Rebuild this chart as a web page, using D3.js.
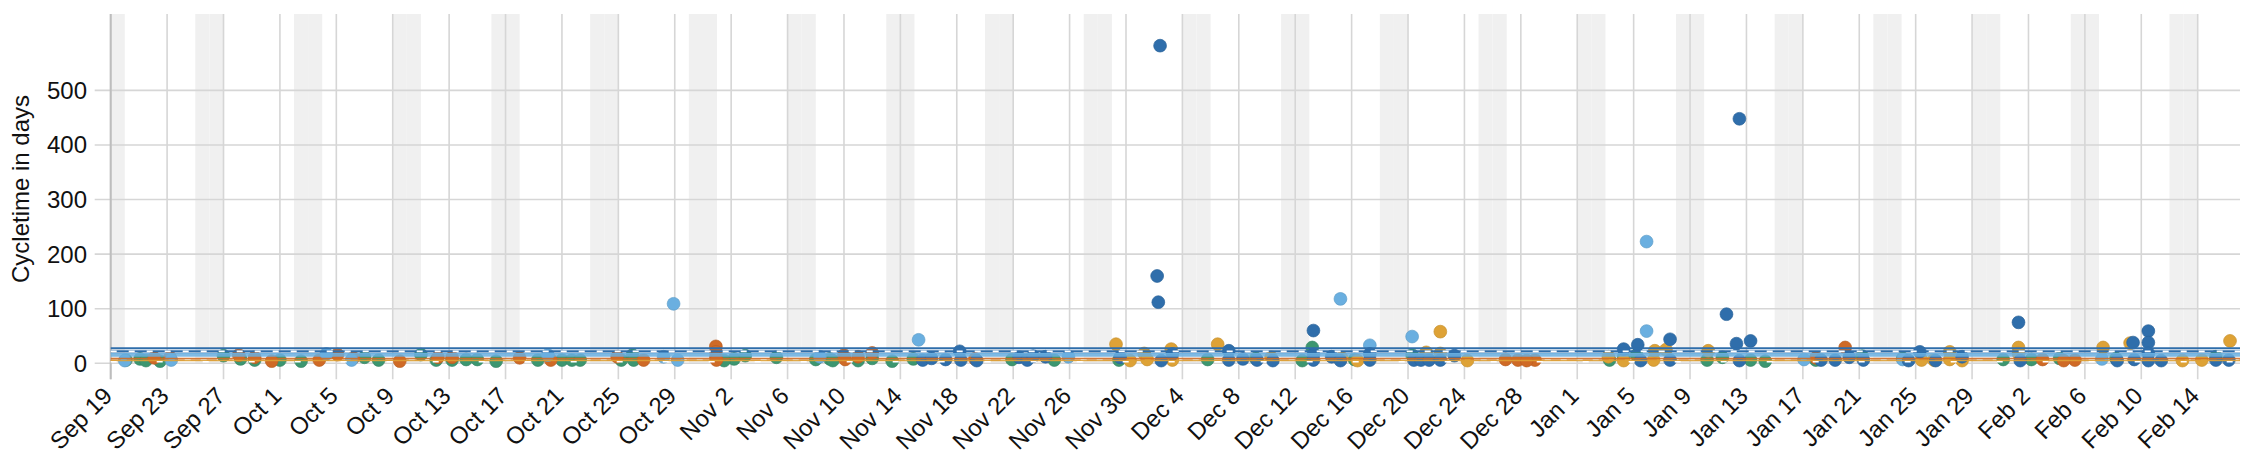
<!DOCTYPE html>
<html><head><meta charset="utf-8">
<script src="https://cdn.jsdelivr.net/npm/d3@7"></script>
<style>
html,body{margin:0;padding:0;background:#fff;}
svg{display:block;font-family:"Liberation Sans",Arial,Helvetica,sans-serif;}
</style></head>
<body><svg id="chart" width="2246" height="474"></svg>
<script>
// ---- data (dates as "YYYY-MM-DD HH", values = cycletime in days) ----
const domainStart = "2021-09-19 00";
const domainEnd = "2022-02-17 00";
const yTicks = [0, 100, 200, 300, 400, 500];
const yMax = 640;
const seriesNames = ["green", "orange", "lightblue", "yellow", "darkblue"];
const seriesColors = ["#3c9670", "#cf6a26", "#6aafe0", "#dea236", "#2f6eab"];

const green = [
 ["2021-09-20 02",6],["2021-09-21 02",8],["2021-09-21 12",5],["2021-09-27 00",14],["2021-09-28 05",8],
 ["2021-09-29 05",6],["2021-10-01 00",6],["2021-10-07 00",11],["2021-10-08 00",6],["2021-10-11 00",16],
 ["2021-10-12 02",6],["2021-10-13 05",6],["2021-10-14 05",7],["2021-10-15 00",7],["2021-10-19 07",6],
 ["2021-10-21 00",6],["2021-10-21 17",6],["2021-10-22 07",6],["2021-10-25 05",6],["2021-10-26 00",15],
 ["2021-10-26 02",6],["2021-11-02 05",8],["2021-11-03 00",14],["2021-11-05 05",11],["2021-11-08 00",7],
 ["2021-11-09 00",8],["2021-11-09 05",5],["2021-11-11 00",5],["2021-11-12 00",9],["2021-11-14 22",8],
 ["2021-11-21 22",7],["2021-11-24 22",6],["2021-11-29 12",6],["2021-12-05 19",7],["2021-12-09 05",9],
 ["2021-12-13 05",29],["2021-12-16 05",7],["2021-12-20 07",15],["2022-01-03 07",6],["2022-01-04 07",12],
 ["2022-01-05 05",15],["2022-01-10 05",6],["2022-01-11 07",11],["2022-01-13 07",6],["2022-01-17 22",6],
 ["2022-01-18 05",7],["2022-01-21 05",13],["2022-01-24 02",9],["2022-01-31 05",7],["2022-02-02 05",7],
 ["2022-02-04 05",9],["2022-02-08 05",9],["2022-02-15 07",12],
 ["2021-09-22 12",4],["2021-10-02 12",4],["2021-10-16 08",4],["2021-11-01 12",5],["2021-11-13 10",4],
 ["2021-12-12 12",5],["2022-01-14 08",4]
];
const orange = [
 ["2021-09-22 02",10],["2021-09-23 05",11],["2021-09-28 02",15],["2021-09-29 05",11],["2021-10-03 19",6],
 ["2021-10-05 02",16],["2021-10-06 05",10],["2021-10-12 05",11],["2021-10-13 05",11],["2021-10-18 00",10],
 ["2021-10-20 05",6],["2021-10-24 22",12],["2021-10-26 19",6],["2021-10-31 22",31],["2021-10-31 22",21],
 ["2021-10-31 22",11],["2021-10-31 23",6],["2021-11-10 00",15],["2021-11-10 02",7],["2021-11-11 00",12],
 ["2021-11-12 00",19],["2021-11-19 07",8],["2021-12-26 22",7],["2021-12-27 19",6],["2021-12-29 00",6],
 ["2022-01-17 22",10],["2022-01-20 00",29],["2022-02-03 00",7],["2022-02-05 07",6],
 ["2021-09-30 10",4],["2021-10-09 12",4],["2021-12-28 10",5],["2022-02-04 12",5]
];
const lightblue = [
 ["2021-09-20 00",5],["2021-09-23 07",6],["2021-10-04 07",17],["2021-10-06 02",6],["2021-10-20 00",15],
 ["2021-10-28 05",12],["2021-10-28 22",109],["2021-10-29 05",6],["2021-11-08 07",12],["2021-11-15 07",43],
 ["2021-11-25 22",12],["2021-12-15 05",118],["2021-12-17 07",33],["2021-12-20 07",49],["2022-01-05 22",223],
 ["2022-01-05 22",59],["2022-01-17 02",7],["2022-01-24 02",7],["2022-02-07 05",8]
];
const yellow = [
 ["2021-11-29 07",35],["2021-11-30 07",5],["2021-12-01 07",18],["2021-12-01 12",7],["2021-12-03 05",26],
 ["2021-12-03 07",6],["2021-12-06 12",35],["2021-12-10 07",11],["2021-12-15 07",10],["2021-12-16 10",5],
 ["2021-12-21 07",20],["2021-12-22 07",58],["2021-12-22 07",18],["2021-12-24 05",5],["2022-01-03 05",12],
 ["2022-01-04 07",5],["2022-01-06 10",6],["2022-01-06 12",23],["2022-01-07 07",25],["2022-01-10 07",23],
 ["2022-01-25 10",6],["2022-01-26 07",6],["2022-01-27 10",21],["2022-01-27 10",7],["2022-01-28 07",5],
 ["2022-02-01 07",29],["2022-02-01 07",18],["2022-02-07 07",29],["2022-02-09 05",37],["2022-02-12 22",5],
 ["2022-02-14 07",6],["2022-02-16 07",41]
];
const darkblue = [
 ["2021-11-15 14",6],["2021-11-16 05",9],["2021-11-17 05",7],["2021-11-18 05",22],["2021-11-18 07",6],
 ["2021-11-19 10",5],["2021-11-22 10",11],["2021-11-23 00",6],["2021-11-23 10",13],["2021-11-24 07",12],
 ["2021-11-29 14",11],["2021-12-02 05",160],["2021-12-02 07",112],["2021-12-02 10",582],["2021-12-02 12",5],
 ["2021-12-03 07",17],["2021-12-07 07",23],["2021-12-07 07",6],["2021-12-08 07",8],["2021-12-09 07",6],
 ["2021-12-10 10",5],["2021-12-13 07",60],["2021-12-13 07",16],["2021-12-13 07",6],["2021-12-14 14",12],
 ["2021-12-15 05",5],["2021-12-17 07",17],["2021-12-17 07",6],["2021-12-20 10",6],["2021-12-20 22",6],
 ["2021-12-21 12",6],["2021-12-22 07",6],["2021-12-23 07",14],["2022-01-04 07",26],["2022-01-05 07",34],
 ["2022-01-05 12",5],["2022-01-07 14",44],["2022-01-07 14",6],["2022-01-11 14",90],["2022-01-12 07",36],
 ["2022-01-12 12",448],["2022-01-12 12",5],["2022-01-13 07",41],["2022-01-18 07",6],["2022-01-19 07",6],
 ["2022-01-20 07",11],["2022-01-21 07",6],["2022-01-24 12",5],["2022-01-25 07",21],["2022-01-26 10",5],
 ["2022-01-28 07",12],["2022-02-01 07",75],["2022-02-01 10",5],["2022-02-08 07",5],["2022-02-09 10",38],
 ["2022-02-09 12",7],["2022-02-10 12",59],["2022-02-10 12",38],["2022-02-10 12",18],["2022-02-10 12",5],
 ["2022-02-11 10",5],["2022-02-15 07",6],["2022-02-16 05",6]
];
const seriesData = [green, orange, lightblue, yellow, darkblue];

// reference lines: value and the series whose colour they use
const refValues = [27.5, 22, 15, 9, 5];
const refSeries = [4, 4, 2, 1, 3];

// ---- chart ----
const parse = d3.utcParse("%Y-%m-%d %H");
const svg = d3.select("#chart");
const L = 110.7, R = 2240, T = 14, B = 363.3, ext = 16;
const x = d3.scaleUtc().domain([parse(domainStart), parse(domainEnd)]).range([L, R]);
const y = d3.scaleLinear().domain([0, yMax]).range([B, T]);

// weekend bands
const days = d3.utcDay.range(parse(domainStart), parse(domainEnd));
svg.append("g").selectAll("rect")
  .data(days.filter(d => d.getUTCDay() === 0 || d.getUTCDay() === 6))
  .join("rect")
  .attr("x", d => x(d)).attr("width", d => x(d3.utcDay.offset(d, 1)) - x(d))
  .attr("y", T).attr("height", B - T).attr("fill", "#f0f0f0");

// x grid + ticks
const xTickVals = d3.utcDay.range(parse(domainStart), d3.utcDay.offset(parse(domainEnd), 1), 4);
const gx = svg.append("g");
gx.selectAll("line").data(xTickVals).join("line")
  .attr("x1", d => x(d)).attr("x2", d => x(d))
  .attr("y1", T).attr("y2", B + ext)
  .attr("stroke", "#d6d6d6").attr("stroke-width", 1.6);
const fmt = d3.utcFormat("%b %-d");
gx.selectAll("text").data(xTickVals).join("text")
  .attr("transform", d => `translate(${x(d) + 3},${B + 34}) rotate(-45)`)
  .attr("text-anchor", "end").attr("font-size", 24).attr("fill", "#111")
  .text(d => fmt(d));

// y grid + ticks
const gy = svg.append("g");
gy.selectAll("line").data(yTicks).join("line")
  .attr("x1", L - ext).attr("x2", R)
  .attr("y1", d => y(d)).attr("y2", d => y(d))
  .attr("stroke", "#d6d6d6").attr("stroke-width", 1.6);
gy.selectAll("text").data(yTicks).join("text")
  .attr("x", 87).attr("y", d => y(d)).attr("dy", "0.35em")
  .attr("text-anchor", "end").attr("font-size", 24).attr("fill", "#111")
  .text(d => d);
svg.append("line").attr("x1", L).attr("x2", L).attr("y1", T).attr("y2", B + ext)
  .attr("stroke", "#bdbdbd").attr("stroke-width", 2);

// y title
svg.append("text").attr("transform", "translate(29,189) rotate(-90)")
  .attr("text-anchor", "middle").attr("font-size", 24).attr("fill", "#111")
  .text("Cycletime in days");

// points
const gp = svg.append("g");
seriesData.forEach((s, i) => {
  const c = seriesColors[i];
  gp.append("g").selectAll("circle").data(s).join("circle")
    .attr("cx", d => x(parse(d[0]))).attr("cy", d => y(d[1])).attr("r", 6.4)
    .attr("fill", c).attr("stroke", d3.color(c).darker(0.3)).attr("stroke-width", 0.7);
});

// reference lines
const gl = svg.append("g");
function hline(v, color, w, dash, op) {
  gl.append("line").attr("x1", L).attr("x2", R).attr("y1", y(v)).attr("y2", y(v))
    .attr("stroke", color).attr("stroke-width", w).attr("stroke-dasharray", dash || null)
    .attr("stroke-opacity", op || 1);
}
hline(refValues[0], seriesColors[refSeries[0]], 2);
hline(refValues[1], seriesColors[refSeries[1]], 2.2);
hline(refValues[1], "#ffffff", 1.8, "6,12");
hline(refValues[2], seriesColors[refSeries[2]], 3.5, null, 0.85);
hline(refValues[2] + 3, seriesColors[refSeries[2]], 1.2, null, 0.85);
hline(refValues[3], seriesColors[refSeries[3]], 1.5, null, 0.9);
hline(refValues[3] - 3, seriesColors[refSeries[3]], 1.3, "10,6", 0.9);
hline(refValues[4], seriesColors[refSeries[4]], 1.6, null, 0.9);
hline(refValues[4] - 2, "#ffffff", 1.5, "6,40");
</script></body></html>
